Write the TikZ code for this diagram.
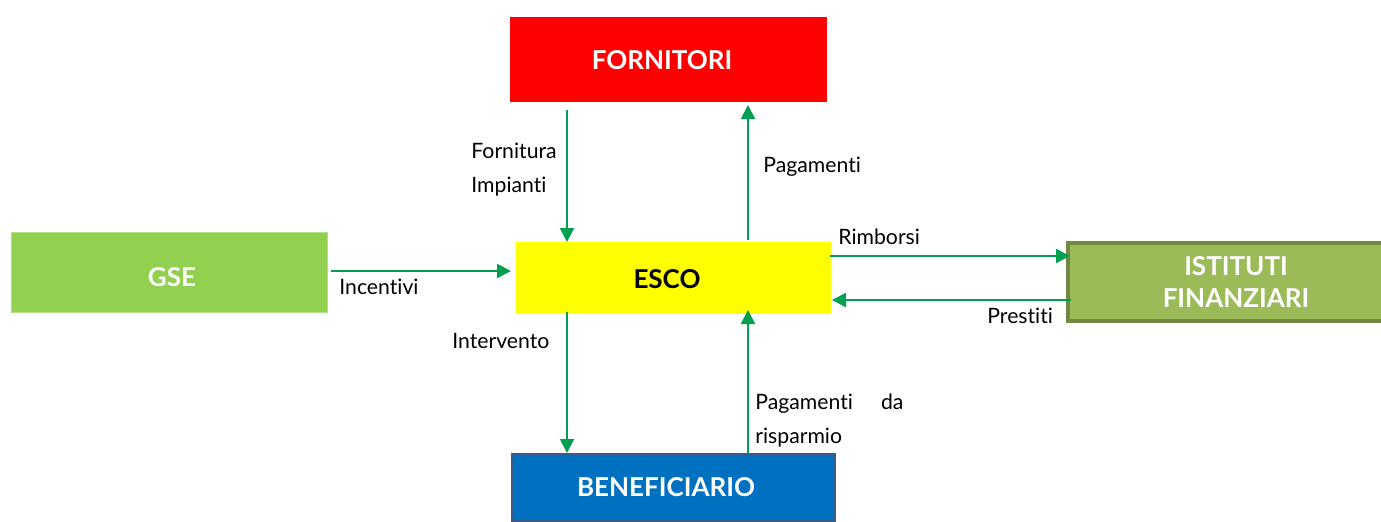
\documentclass[tikz,border=0pt]{standalone}
\usepackage{fontspec}
\setmainfont[Ligatures=NoCommon]{Lato}
\usetikzlibrary{arrows.meta}
\definecolor{arrowgreen}{HTML}{00A050}
\definecolor{fornred}{HTML}{FF0000}
\definecolor{gsegreen}{HTML}{92D050}
\definecolor{escoyellow}{HTML}{FFFF00}
\definecolor{istfill}{HTML}{9BBB59}
\definecolor{istborder}{HTML}{71893F}
\definecolor{benfill}{HTML}{0070C0}
\definecolor{benborder}{HTML}{385D8A}
\tikzset{
  box/.style={inner sep=0pt, font=\fontsize{13}{16}\selectfont\bfseries, text=white, align=center},
  flow/.style={draw=arrowgreen, line width=1pt, -{Triangle[width=7pt,length=7pt]}},
  lbl/.style={inner sep=0pt, font=\fontsize{10.6}{17}\selectfont, align=left},
}
\begin{document}
\begin{tikzpicture}[x=0.5pt,y=-0.5pt]
\useasboundingbox (0,0) rectangle (1381,521);
% boxes
\fill[fornred] (510,17) rectangle (827,102);
\node[box] (forn) at (662,60) {FORNITORI};
\path[fill=gsegreen, draw=gsegreen!70!white, line width=0.5pt] (11,232) rectangle (327,312);
\node[box] (gse) at (172,277) {GSE};
\fill[escoyellow] (516,242) rectangle (831,314);
\node[box, text=black] (esco) at (667,279) {ESCO};
\path[fill=istfill, draw=istborder, line width=2pt] (1068,243) rectangle (1406,321);
\node[box] (ist) at (1236,282) {ISTITUTI\\FINANZIARI};
\path[fill=benfill, draw=benborder, line width=1.5pt] (512,454.5) rectangle (834,521);
\node[box] (ben) at (666,487) {BENEFICIARIO};
% anchor coordinates
\coordinate (fornA) at (567,110);
\coordinate (escoA) at (567,242);
\coordinate (escoB) at (748,240);
\coordinate (fornB) at (748,105);
\coordinate (gseR) at (331,271);
\coordinate (escoL) at (511,271);
\coordinate (escoR1) at (830,256);
\coordinate (istL1) at (1070,256);
\coordinate (istL2) at (1071,300);
\coordinate (escoR2) at (832,300);
\coordinate (escoC) at (567,312);
\coordinate (benA) at (567,453);
\coordinate (benB) at (748,453);
\coordinate (escoD) at (748,310);
% connectors
\draw[flow] (fornA) -- (escoA);
\draw[flow] (escoB) -- (fornB);
\draw[flow] (gseR) -- (escoL);
\draw[flow] (escoR1) -- (istL1);
\draw[flow] (istL2) -- (escoR2);
\draw[flow] (escoC) -- (benA);
\draw[flow] (benB) -- (escoD);
% labels
\node[lbl, anchor=north west] (lforn) at (471,143) {Fornitura\\Impianti};
\node[lbl, anchor=base west] (lpag) at (763,172) {Pagamenti};
\node[lbl, anchor=base west] (linc) at (339,294) {Incentivi};
\node[lbl, anchor=base west] (lrim) at (838,244) {Rimborsi};
\node[lbl, anchor=base west] (lpre) at (987,323) {Prestiti};
\node[lbl, anchor=base west] (lint) at (452,348) {Intervento};
\node[lbl, anchor=north west, text width=74pt] (lpdr) at (755,393) {Pagamenti\hspace{0pt plus 1filll}da\\risparmio};
\end{tikzpicture}
\end{document}
